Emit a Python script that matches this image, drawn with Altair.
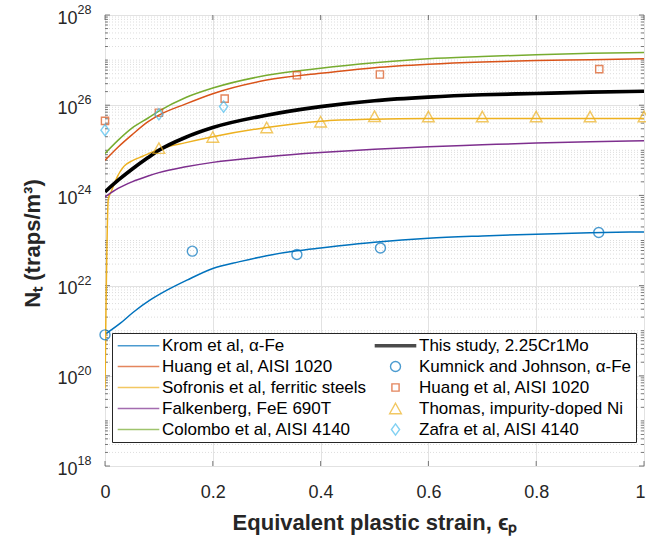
import altair as alt
import pandas as pd

# ---- fitted trap-density curves (traps/m^3) versus equivalent plastic strain ----
strain = [0, 0.025, 0.05, 0.08, 0.1, 0.15, 0.2, 0.3, 0.4, 0.5, 0.6, 0.7, 0.8, 0.9, 1.0]
huang_fit = [6.0e24, 1.2e25, 2.2e25, 4.3e25, 6.0e25, 1.07e26, 1.8e26, 3.6e26, 5.1e26,
             6.8e26, 8.1e26, 9.1e26, 9.8e26, 1.02e27, 1.07e27]
colombo_fit = [8.5e24, 1.7e25, 3.1e25, 5.2e25, 7.4e25, 1.48e26, 2.4e26, 4.6e26, 6.6e26,
               8.7e26, 1.07e27, 1.2e27, 1.32e27, 1.41e27, 1.48e27]
this_study = [1.2e24, 2.2e24, 3.8e24, 6.9e24, 1.0e25, 1.95e25, 3.2e25, 6.0e25, 9.3e25,
              1.26e26, 1.51e26, 1.7e26, 1.82e26, 1.95e26, 2.04e26]
falkenberg_fit = [9.3e23, 1.45e24, 2.0e24, 2.7e24, 3.2e24, 4.3e24, 5.4e24, 7.2e24, 8.9e24,
                  1.05e25, 1.2e25, 1.32e25, 1.45e25, 1.55e25, 1.62e25]

krom_strain = [0, 0.028, 0.053, 0.084, 0.115, 0.152, 0.2, 0.25, 0.3, 0.356, 0.4, 0.5,
               0.6, 0.7, 0.8, 0.9, 1.0]
krom_fit = [8.3e20, 1.45e21, 2.6e21, 4.8e21, 7.9e21, 1.32e22, 2.4e22, 3.4e22, 4.6e22,
            5.9e22, 6.8e22, 9.1e22, 1.12e23, 1.26e23, 1.38e23, 1.48e23, 1.55e23]

sofronis_strain = [0, 0.006, 0.012, 0.02, 0.035, 0.05, 0.07, 0.1, 0.15, 0.2, 0.3, 0.4,
                   0.5, 0.6, 0.7, 0.8, 0.9, 1.0]
sofronis_fit = [5.2e19, 8.0e23, 1.25e24, 2.2e24, 4.4e24, 5.8e24, 7.4e24, 1.05e25, 1.48e25,
                2.0e25, 3.2e25, 4.4e25, 4.9e25, 5.07e25, 5.1e25, 5.1e25, 5.1e25, 5.1e25]

# ---- experimental data points ----
kumnick_strain = [0, 0.162, 0.356, 0.511, 0.916]
kumnick_nt = [8.1e20, 5.8e22, 4.9e22, 6.8e22, 1.5e23]
huang_strain = [0, 0.1, 0.222, 0.356, 0.51, 0.917]
huang_nt = [4.5e25, 6.8e25, 1.4e26, 4.6e26, 4.8e26, 6.3e26]
thomas_strain = [0.1, 0.2, 0.3, 0.4, 0.5, 0.6, 0.7, 0.8, 0.9, 1.0]
thomas_nt = [1.12e25, 1.97e25, 3.2e25, 4.3e25, 5.7e25, 5.6e25, 5.6e25, 5.6e25, 5.6e25, 5.6e25]
zafra_strain = [0, 0.1, 0.22]
zafra_nt = [2.8e25, 6.3e25, 9.3e25]

# ---- series names ----
KROM = "Krom et al, α-Fe"
HUANG_FIT = "Huang et al, AISI 1020"
SOFRONIS = "Sofronis et al, ferritic steels"
FALK = "Falkenberg, FeE 690T"
COLOMBO = "Colombo et al, AISI 4140"
STUDY = "This study, 2.25Cr1Mo"
KUMNICK = "Kumnick and Johnson, α-Fe"
HUANG_DATA = "Huang et al, AISI 1020 "   # trailing space keeps the marker entry distinct
THOMAS = "Thomas, impurity-doped Ni"
ZAFRA = "Zafra et al, AISI 4140"

# column-major order for the two-column legend
legend_order = [KROM, HUANG_FIT, SOFRONIS, FALK, COLOMBO,
                STUDY, KUMNICK, HUANG_DATA, THOMAS, ZAFRA]

BLUE, RED, YEL, PUR, GRN, CYAN = "#0072BD", "#D95319", "#EDB120", "#7E2F8E", "#77AC30", "#4DBEEE"
colors = [BLUE, RED, YEL, PUR, GRN, "#000000", BLUE, RED, YEL, CYAN]

# custom symbol paths (unit = half the square root of the symbol size)
LINE = "M-4.16,0H4.16"
CIRCLE = "M1,0A1,1 0 1,1 -1,0A1,1 0 1,1 1,0Z"
SQUARE = "M-0.72,-0.72H0.72V0.72H-0.72Z"
TRIANGLE = "M0,-1.05L1.17,1.05L-1.17,1.05Z"
DIAMOND = "M0,-1.12L0.82,0L0,1.12L-0.82,0Z"
shapes = [LINE, LINE, LINE, LINE, LINE, LINE, CIRCLE, SQUARE, TRIANGLE, DIAMOND]
widths = [1.5, 1.5, 1.5, 1.5, 1.5, 3.6, 1.4, 1.4, 1.4, 1.4]

curves = pd.concat([
    pd.DataFrame({"strain": krom_strain, "nt": krom_fit, "series": KROM}),
    pd.DataFrame({"strain": strain, "nt": huang_fit, "series": HUANG_FIT}),
    pd.DataFrame({"strain": sofronis_strain, "nt": sofronis_fit, "series": SOFRONIS}),
    pd.DataFrame({"strain": strain, "nt": falkenberg_fit, "series": FALK}),
    pd.DataFrame({"strain": strain, "nt": colombo_fit, "series": COLOMBO}),
    pd.DataFrame({"strain": strain, "nt": this_study, "series": STUDY}),
], ignore_index=True)

points = pd.concat([
    pd.DataFrame({"strain": kumnick_strain, "nt": kumnick_nt, "series": KUMNICK}),
    pd.DataFrame({"strain": huang_strain, "nt": huang_nt, "series": HUANG_DATA}),
    pd.DataFrame({"strain": thomas_strain, "nt": thomas_nt, "series": THOMAS}),
    pd.DataFrame({"strain": zafra_strain, "nt": zafra_nt, "series": ZAFRA}),
], ignore_index=True)

# ---- axis furniture ----
x_ticks = [0, 0.2, 0.4, 0.6, 0.8, 1]
decades = [18, 20, 22, 24, 26, 28]
major_y = pd.DataFrame({"nt": [10.0 ** e for e in decades]})
minor_y = pd.DataFrame({"nt": [k * 10.0 ** e for e in range(18, 28) for k in range(1, 10)
                               if not (k == 1 and e % 2 == 0)]})
exponents = pd.DataFrame({"nt": [10.0 ** e for e in decades], "exp": [str(e) for e in decades]})
x_tick_df = pd.DataFrame({"strain": x_ticks})

FONT = "Liberation Sans"
INK = "#262626"
W, H = 539, 451

x_scale = alt.Scale(domain=[0, 1], nice=False)
y_scale = alt.Scale(type="log", domain=[1e18, 1e28], nice=False)

x_enc = alt.X("strain:Q", scale=x_scale, axis=alt.Axis(
    values=x_ticks, format="~g", title="Equivalent plastic strain, ϵₚ",
    titleFontSize=22, titleFontWeight="bold", titleColor=INK,
    titleBaseline="alphabetic", titleY=63,
    labelFontSize=18, labelColor=INK, labelPadding=17, labelFlush=False,
    labelOffset={"condition": {"test": "datum.value == 1", "value": -4}, "value": 0},
    ticks=False, domain=False, grid=True, gridColor="#e2e2e2", labelFont=FONT, titleFont=FONT))
y_axis = alt.Axis(
    values=[10.0 ** e for e in decades], labelExpr="'10'", title="Nₜ (traps/m³)",
    titleFontSize=22, titleFontWeight="bold", titleColor=INK,
    titleAngle=270, titleBaseline="alphabetic", titleX=-66, titleY=228, titleAlign="center",
    labelFontSize=18, labelColor=INK, labelPadding=28, labelBaseline="middle", labelOffset=3,
    ticks=False, domain=False, grid=True, gridColor="#e2e2e2", labelFont=FONT, titleFont=FONT)
y_enc = alt.Y("nt:Q", scale=y_scale, axis=y_axis)

legend = alt.Legend(
    title=None, orient="none", legendX=7, legendY=318, columns=2,
    labelFont=FONT, labelFontSize=17, labelColor="#000000", labelLimit=400,
    symbolSize=100, symbolOffset=14, labelOffset=15, symbolFillColor="transparent",
    padding=4, rowPadding=3, columnPadding=0,
    strokeColor=INK, fillColor="#ffffff")

color = alt.Color("series:N", scale=alt.Scale(domain=legend_order, range=colors), legend=legend)
shape = alt.Shape("series:N", scale=alt.Scale(domain=legend_order, range=shapes), legend=legend)
stroke_w = alt.StrokeWidth("series:N", scale=alt.Scale(type="ordinal", domain=legend_order, range=widths),
                           legend=legend)

# dotted minor grid
grid_layer = alt.Chart(minor_y).mark_rule(
    strokeDash=[1, 2], color="#d4d4d4", strokeWidth=0.8
).encode(y=y_enc)

# inward tick marks on all four sides
tick_style = dict(color="#5a5a5a", strokeWidth=0.8)
x_tick_bottom = alt.Chart(x_tick_df).mark_rule(**tick_style).encode(
    x=x_enc, y=alt.value(H), y2=alt.value(H - 5))
x_tick_top = alt.Chart(x_tick_df).mark_rule(**tick_style).encode(
    x=x_enc, y=alt.value(0), y2=alt.value(5))
y_major_left = alt.Chart(major_y).mark_rule(**tick_style).encode(
    y=y_enc, x=alt.value(0), x2=alt.value(5))
y_major_right = alt.Chart(major_y).mark_rule(**tick_style).encode(
    y=y_enc, x=alt.value(W), x2=alt.value(W - 5))
y_minor_left = alt.Chart(minor_y).mark_rule(**tick_style).encode(
    y=y_enc, x=alt.value(0), x2=alt.value(3))
y_minor_right = alt.Chart(minor_y).mark_rule(**tick_style).encode(
    y=y_enc, x=alt.value(W), x2=alt.value(W - 3))

# raised exponent next to each "10" tick label
exp_layer = alt.Chart(exponents).mark_text(
    align="left", baseline="alphabetic", fontSize=12.5, color=INK, font=FONT, dy=-1
).encode(x=alt.value(-27.5), y=y_enc, text="exp:N")

line_layer = alt.Chart(curves).mark_line(interpolate="monotone", clip=True).encode(
    x=x_enc, y=y_enc, color=color, strokeWidth=stroke_w, order="strain:Q")

point_layer = alt.Chart(points).mark_point(filled=False, size=100).encode(
    x=x_enc, y=y_enc, color=color, shape=shape, strokeWidth=stroke_w)

chart = alt.layer(
    grid_layer, x_tick_bottom, x_tick_top, y_major_left, y_major_right,
    y_minor_left, y_minor_right, exp_layer, line_layer, point_layer
).properties(
    width=W, height=H,
    padding={"left": 105, "top": 15, "right": 2, "bottom": 77},
    autosize=alt.AutoSizeParams(type="none"),
).configure_view(
    stroke="#808080", strokeWidth=1
).configure_legend(
    strokeColor=INK, strokeWidth=1, fillColor="#ffffff"
).configure(font=FONT)

chart.save("out.html", embed_options={"renderer": "svg", "actions": False})
